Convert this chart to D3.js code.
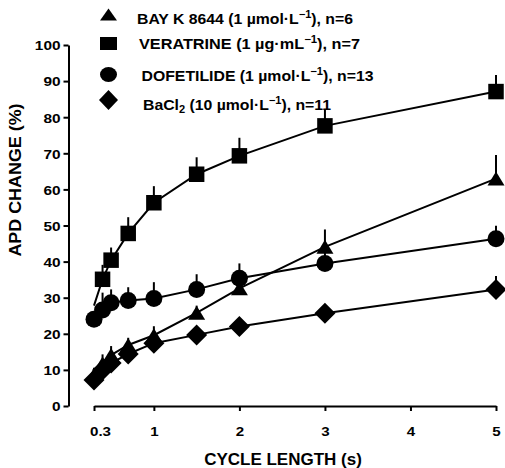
<!DOCTYPE html>
<html><head><meta charset="utf-8">
<script src="https://cdn.jsdelivr.net/npm/d3@7"></script>
<style>
body{margin:0;background:#fff}
text{font-family:"Liberation Sans",Arial,sans-serif;font-weight:bold;fill:#000}
</style>
</head><body>
<svg id="c" width="505" height="468"></svg>
<script>
// ---- data ----
const cycleLength = [0.3, 0.4, 0.5, 0.7, 1, 1.5, 2, 3, 5];
const bayK       = [8.6, 11.8, 14.1, 16.9, 19.6, 25.8, 32.6, 44.1, 63.0];
const bayKErr    = [2.0, 2.5, 2.5, 2.0, 2.5, 2.0, 2.0, 4.8, 6.5];
const veratrine  = [27.8, 35.1, 40.4, 47.8, 56.3, 64.2, 69.3, 77.6, 87.1];
const veratrineErr = [0, 4.0, 3.5, 4.5, 4.6, 4.7, 5.0, 4.4, 4.6];
const dofetilide = [24.0, 26.6, 28.6, 29.2, 29.8, 32.3, 35.4, 39.5, 46.3];
const dofetilideErr = [2.0, 4.8, 3.7, 3.7, 4.5, 4.2, 4.1, 3.0, 3.6];
const bacl2      = [7.2, 10.0, 11.9, 14.4, 17.4, 19.7, 22.0, 25.7, 32.3];
const bacl2Err   = [1.5, 2.0, 2.0, 2.0, 2.0, 2.0, 2.0, 2.0, 3.7];
const xTicks = [0.3, 1, 2, 3, 4, 5];
const yTicks = [0, 10, 20, 30, 40, 50, 60, 70, 80, 90, 100];
const xTitle = "CYCLE LENGTH (s)";
const yTitle = "APD CHANGE (%)";

// ---- shapes ----
const shapes = {
  triangle: (w, h) => `M0,${-h/2}L${w/2},${h/2}L${-w/2},${h/2}Z`,
  square: (w, h) => `M${-w/2},${-h/2}H${w/2}V${h/2}H${-w/2}Z`,
  circle: (w, h) => `M${-w/2},0A${w/2},${h/2} 0 1,0 ${w/2},0A${w/2},${h/2} 0 1,0 ${-w/2},0Z`,
  diamond: (w, h) => `M0,${-h/2}L${w/2},0L0,${h/2}L${-w/2},0Z`
};
// veratrine's first point is only reached by its line (its symbol is hidden in the original)
const series = [
  {vals: veratrine, err: veratrineErr, shape: "square", w: 15.5, h: 15.5, skip: [0]},
  {vals: dofetilide, err: dofetilideErr, shape: "circle", w: 17, h: 17, skip: []},
  {vals: bayK, err: bayKErr, shape: "triangle", w: 17, h: 14, skip: []},
  {vals: bacl2, err: bacl2Err, shape: "diamond", w: 21, h: 21, skip: []}
];

const svg = d3.select("#c");
const x = d3.scaleLinear().domain([0.3, 5]).range([94, 496]);
const y = d3.scaleLinear().domain([0, 100]).range([406, 45]);

function stretch(sel, s) {
  sel.each(function() {
    const t = d3.select(this);
    const ax = +t.attr("x") || 0;
    t.attr("transform", `translate(${ax},0) scale(${s},1) translate(${-ax},0)`);
  });
}

// ---- axes ----
const gy = svg.append("g").attr("transform", "translate(68.5,0)")
  .call(d3.axisLeft(y).tickValues(yTicks).tickSize(5).tickSizeOuter(0).tickPadding(3));
gy.select(".domain").attr("stroke", "#000").attr("stroke-width", 2);
gy.selectAll(".tick line").attr("stroke", "#000").attr("stroke-width", 2);
gy.selectAll(".tick text").attr("font-size", 13.5).attr("font-family", null).attr("dy", "0.36em");
stretch(gy.selectAll(".tick text"), 1.14);

const gx = svg.append("g").attr("transform", "translate(0,406)")
  .call(d3.axisBottom(x).tickValues(xTicks).tickFormat(d => d).tickSize(5).tickSizeOuter(0).tickPadding(15));
gx.select(".domain").attr("stroke", "#000").attr("stroke-width", 2);
gx.selectAll(".tick line").attr("stroke", "#000").attr("stroke-width", 2);
gx.selectAll(".tick text").attr("font-size", 13.5).attr("font-family", null)
  .attr("x", (d, i) => i === 0 ? 6 : 0);
stretch(gx.selectAll(".tick text"), 1.12);

svg.append("text").attr("x", 283).attr("y", 465).attr("text-anchor", "middle")
  .attr("font-size", 17).text(xTitle);
svg.append("g").attr("transform", "translate(21,180) rotate(-90)")
  .append("text").attr("x", 0).attr("y", 0).attr("text-anchor", "middle")
  .attr("font-size", 16).text(yTitle)
  .attr("transform", "scale(1.12,1)");

// ---- lines, error bars, markers ----
const line = d3.line().x((d, i) => x(cycleLength[i])).y(d => y(d));
series.forEach(s => {
  svg.append("path").attr("d", line(s.vals)).attr("fill", "none")
    .attr("stroke", "#000").attr("stroke-width", 2);
});
series.forEach(s => {
  const pts = s.vals.map((v, i) => ({v, i})).filter(p => !s.skip.includes(p.i));
  svg.append("g").selectAll("line").data(pts).join("line")
    .attr("x1", p => x(cycleLength[p.i])).attr("x2", p => x(cycleLength[p.i]))
    .attr("y1", p => y(p.v)).attr("y2", p => y(p.v + s.err[p.i]))
    .attr("stroke", "#000").attr("stroke-width", 2);
  svg.append("g").selectAll("path").data(pts).join("path")
    .attr("d", shapes[s.shape](s.w, s.h))
    .attr("transform", p => `translate(${x(cycleLength[p.i])},${y(p.v)})`)
    .attr("fill", "#000");
});

// ---- legend ----
const legend = [
  {shape: "triangle", w: 17, h: 12, sy: 14.5, tx: 137, ty: 23.5, width: 216,
   parts: [["BAY K 8644 (1 µmol·L", 0], ["−1", -1], ["), n=6", 0]]},
  {shape: "square", w: 17, h: 13, sy: 43.5, tx: 139, ty: 48.5, width: 221,
   parts: [["VERATRINE (1 µg·mL", 0], ["−1", -1], ["), n=7", 0]]},
  {shape: "circle", w: 17, h: 15, sy: 74.5, tx: 141.5, ty: 80.5, width: 232,
   parts: [["DOFETILIDE (1 µmol·L", 0], ["−1", -1], ["), n=13", 0]]},
  {shape: "diamond", w: 19, h: 20, sy: 100, tx: 143, ty: 109.5, width: 188,
   parts: [["BaCl", 0], ["2", 1], [" (10 µmol·L", 0], ["−1", -1], ["), n=11", 0]]}
];
legend.forEach(l => {
  svg.append("path").attr("d", shapes[l.shape](l.w, l.h))
    .attr("transform", `translate(108.5,${l.sy})`).attr("fill", "#000");
  const t = svg.append("text").attr("x", l.tx).attr("y", l.ty).attr("font-size", 15)
    .attr("textLength", l.width).attr("lengthAdjust", "spacingAndGlyphs");
  let prev = 0;
  l.parts.forEach(([str, mode]) => {
    const shift = mode === -1 ? -5.5 : mode === 1 ? 3 : 0;
    t.append("tspan").attr("dy", shift - prev)
      .attr("font-size", mode === 0 ? 15 : 10.5).text(str);
    prev = shift;
  });
});
</script>
</body></html>
